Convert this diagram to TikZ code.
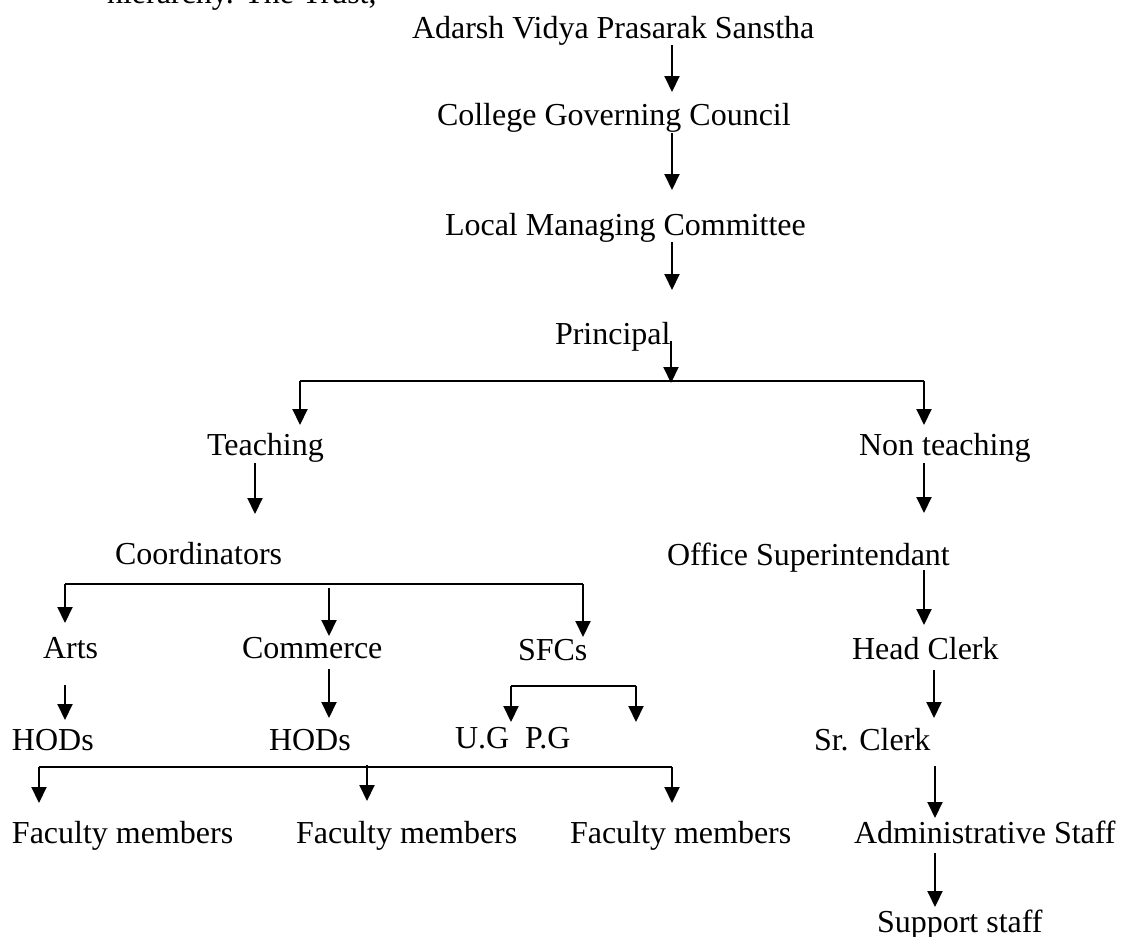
\documentclass[tikz,border=0pt]{standalone}
\usepackage{fontspec}
\setmainfont{Liberation Serif}
\usetikzlibrary{arrows.meta,calc}
\begin{document}
\begin{tikzpicture}[x=1pt,y=-1pt,
  lbl/.style={anchor=base west,inner sep=0pt,outer sep=0pt,font=\fontsize{32}{38}\selectfont},
  arr/.style={line width=2pt,-{Triangle[width=15pt,length=16pt]}},
  ln/.style={line width=2pt}]
\fill[white] (0,0) rectangle (1122,937);
\useasboundingbox (0,0) rectangle (1122,937);
% texts
\node[lbl] (trust) at (107,3) {hierarchy. The Trust,};
\node[lbl] (adarsh) at (412,38) {Adarsh Vidya Prasarak Sanstha};
\node[lbl] (college) at (437,125) {College Governing Council};
\node[lbl] (local) at (445,235) {Local Managing Committee};
\node[lbl] (principal) at (555,344) {Principal};
\node[lbl] (teaching) at (207,455) {Teaching};
\node[lbl] (nonteach) at (859,455) {Non teaching};
\node[lbl] (coord) at (115,564) {Coordinators};
\node[lbl] (office) at (667,565) {Office Superintendant};
\node[lbl] (arts) at (43,658) {Arts};
\node[lbl] (commerce) at (242,658) {Commerce};
\node[lbl] (sfcs) at (518,660) {SFCs};
\node[lbl] (head) at (852,659) {Head Clerk};
\node[lbl] (hods1) at (12,750) {HODs};
\node[lbl] (hods2) at (269,750) {HODs};
\node[lbl] (ug) at (455,748) {U.G};
\node[lbl] (pg) at (525,748) {P.G};
\node[lbl] (sr) at (814,750) {Sr. Clerk};
\node[lbl] (fac1) at (12,843) {Faculty members};
\node[lbl] (fac2) at (296,843) {Faculty members};
\node[lbl] (fac3) at (570,843) {Faculty members};
\node[lbl] (admin) at (854,843) {Administrative Staff};
\node[lbl] (support) at (877,932) {Support staff};
% columns and junctions
\coordinate (spine) at (672,0);
\coordinate (pbar) at (671,381);
\coordinate (tbar) at (300,381);
\coordinate (nbar) at (924,381);
\coordinate (tcol) at (255,0);
\coordinate (ncol) at (924,0);
\coordinate (ncol2) at (934,0);
\coordinate (ncol3) at (935,0);
\coordinate (cbarL) at (65,584);
\coordinate (cbarM) at (329,584);
\coordinate (cbarR) at (583,584);
\coordinate (sbarL) at (511,686);
\coordinate (sbarR) at (636,686);
\coordinate (fbarL) at (39,767);
\coordinate (fbarM) at (367,767);
\coordinate (fbarR) at (672,767);
% top spine
\draw[arr] ($(adarsh.base -| spine)+(0,7)$) -- ($(college.base -| spine)+(0,-33)$);
\draw[arr] ($(college.base -| spine)+(0,8)$) -- ($(local.base -| spine)+(0,-45)$);
\draw[arr] ($(local.base -| spine)+(0,7)$) -- ($(principal.base -| spine)+(0,-54)$);
\draw[arr] ($(principal.base -| pbar)+(0,-3)$) -- ($(pbar)+(0,2)$);
% principal split
\draw[ln] (tbar) -- (nbar);
\draw[arr] (tbar) -- ($(teaching.base -| tbar)+(0,-30)$);
\draw[arr] (nbar) -- ($(nonteach.base -| nbar)+(0,-30)$);
% teaching branch
\draw[arr] ($(teaching.base -| tcol)+(0,8)$) -- ($(coord.base -| tcol)+(0,-50)$);
\draw[ln] (cbarL) -- (cbarR);
\draw[arr] (cbarL) -- ($(arts.base -| cbarL)+(0,-35)$);
\draw[arr] ($(cbarM)+(0,4)$) -- ($(commerce.base -| cbarM)+(0,-22)$);
\draw[arr] (cbarR) -- ($(sfcs.base -| cbarR)+(0,-23)$);
\draw[arr] ($(arts.base -| cbarL)+(0,27)$) -- ($(hods1.base -| cbarL)+(0,-30)$);
\draw[arr] ($(commerce.base -| cbarM)+(0,11)$) -- ($(hods2.base -| cbarM)+(0,-32)$);
\draw[ln] (sbarL) -- (sbarR);
\draw[arr] (sbarL) -- ($(ug.base -| sbarL)+(0,-26)$);
\draw[arr] (sbarR) -- ($(pg.base -| sbarR)+(0,-26)$);
\draw[ln] (fbarL) -- (fbarR);
\draw[arr] (fbarL) -- ($(fac1.base -| fbarL)+(0,-40)$);
\draw[arr] ($(fbarM)+(0,-2)$) -- ($(fac2.base -| fbarM)+(0,-42)$);
\draw[arr] (fbarR) -- ($(fac3.base -| fbarR)+(0,-40)$);
% non teaching branch
\draw[arr] ($(nonteach.base -| ncol)+(0,8)$) -- ($(office.base -| ncol)+(0,-52)$);
\draw[arr] ($(office.base -| ncol)+(0,5)$) -- ($(head.base -| ncol)+(0,-34)$);
\draw[arr] ($(head.base -| ncol2)+(0,11)$) -- ($(sr.base -| ncol2)+(0,-32)$);
\draw[arr] ($(sr.base -| ncol3)+(0,16)$) -- ($(admin.base -| ncol3)+(0,-25)$);
\draw[arr] ($(admin.base -| ncol3)+(0,10)$) -- ($(support.base -| ncol3)+(0,-25)$);
\end{tikzpicture}
\end{document}
